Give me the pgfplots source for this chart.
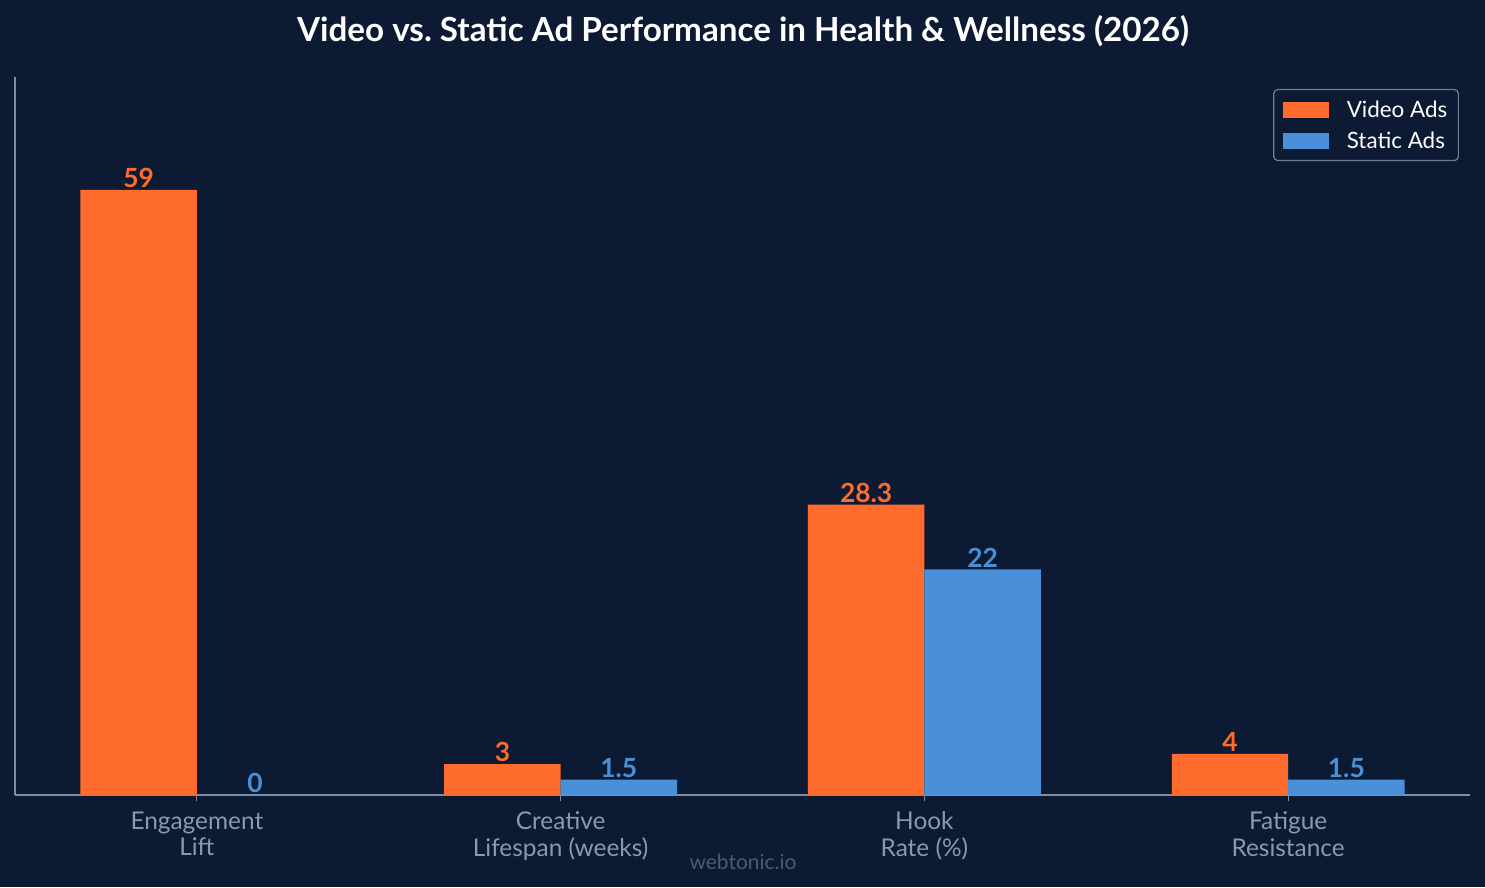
\documentclass[border=0pt]{standalone}
\usepackage{fontspec}
\setmainfont{Lato}
\usepackage{pgfplots}
\pgfplotsset{compat=1.18}
\definecolor{bg}{HTML}{0C1B33}
\definecolor{vorange}{HTML}{FF6B2C}
\definecolor{sblue}{HTML}{4A90D9}
\definecolor{axisgray}{HTML}{7F8DA0}
\definecolor{tickgray}{HTML}{8A99AD}
\definecolor{legendgray}{HTML}{6E7E94}
\definecolor{markgray}{HTML}{4A5B72}
\begin{document}
\begin{tikzpicture}[x=1bp,y=1bp]
\fill[bg] (0,0) rectangle (1485,887);
\useasboundingbox (0,0) rectangle (1485,887);
\node[font=\bfseries\fontsize{33.3}{38}\selectfont, text=white] at (743,856)
  {Video vs.\ Static Ad Performance in Health \& Wellness (2026)};
\node[font=\fontsize{21}{24}\selectfont, text=markgray] at (743,25) {webtonic.io};
\begin{axis}[
  at={(15bp,92bp)}, anchor=south west,
  scale only axis, width=1455bp, height=718bp,
  xmin=-0.5, xmax=3.5, ymin=0, ymax=70,
  ybar=0pt, bar width=0.32,
  axis lines*=left,
  axis line style={axisgray, line width=1.2bp},
  xtick={0,1,2,3},
  xticklabels={Engagement\\Lift, Creative\\Lifespan (weeks), Hook\\Rate (\%), Fatigue\\Resistance},
  xticklabel style={align=center, text=tickgray, font=\fontsize{24.5}{27}\selectfont, yshift=-7bp},
  ytick=\empty,
  tick align=outside, major tick length=6bp,
  x tick style={axisgray, line width=1.2bp},
  /pgf/number format/assume math mode=true,
  nodes near coords,
  every node near coord/.append style={font=\bfseries\fontsize{26.5}{30}\selectfont, inner sep=2bp, anchor=south},
  legend style={at={(0.9924,0.9833)}, anchor=north east, draw=legendgray, line width=1.2bp,
    fill=bg, rounded corners=4bp, text=white, font=\fontsize{22.5}{26}\selectfont,
    inner xsep=9bp, inner ysep=9bp, row sep=9bp},
  legend cell align=left,
  legend image code/.code={\fill[sharp corners] (0bp,-8bp) rectangle (46bp,8bp); \path (62bp,0bp);},
]
\addplot[fill=vorange, draw=none, every node near coord/.append style={text=vorange}]
  coordinates {(0,59) (1,3) (2,28.3) (3,4)};
\addplot[fill=sblue, draw=none, every node near coord/.append style={text=sblue}]
  coordinates {(0,0) (1,1.5) (2,22) (3,1.5)};
\legend{Video Ads, Static Ads}
\end{axis}
\end{tikzpicture}
\end{document}
